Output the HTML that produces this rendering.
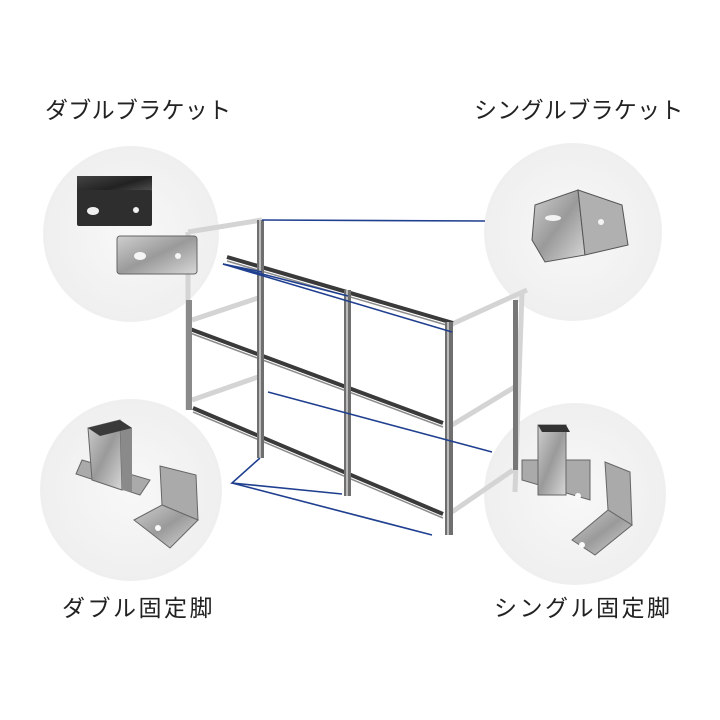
<!DOCTYPE html>
<html><head><meta charset="utf-8"><style>
body{margin:0;background:#fff;}
svg{display:block}
text{font-family:"Liberation Sans","Noto Sans CJK JP",sans-serif;font-size:23px;fill:#222;letter-spacing:0.3px}
text.b{letter-spacing:2.5px}
</style></head><body>
<svg width="720" height="720" viewBox="0 0 720 720" xmlns="http://www.w3.org/2000/svg">
<defs>
<radialGradient id="cg" cx="50%" cy="50%" r="50%">
<stop offset="0%" stop-color="#f8f8f8"/><stop offset="100%" stop-color="#efefef"/>
</radialGradient>
<linearGradient id="met" x1="0" y1="0" x2="1" y2="1">
<stop offset="0" stop-color="#cfcfcf"/><stop offset=".5" stop-color="#9a9a9a"/><stop offset="1" stop-color="#d8d8d8"/>
</linearGradient>
<linearGradient id="dark" x1="0" y1="0" x2="1" y2="1">
<stop offset="0" stop-color="#444"/><stop offset=".5" stop-color="#222"/><stop offset="1" stop-color="#666"/>
</linearGradient>
</defs>
<text x="45" y="118">ダブルブラケット</text>
<text x="474" y="118">シングルブラケット</text>
<text class="b" x="62" y="616">ダブル固定脚</text>
<text class="b" x="494" y="616">シングル固定脚</text>

<circle cx="131" cy="234" r="88" fill="url(#cg)"/>
<circle cx="573" cy="232" r="89" fill="url(#cg)"/>
<circle cx="131" cy="490" r="91" fill="url(#cg)"/>
<circle cx="575" cy="494" r="91" fill="url(#cg)"/>

<g stroke="#d4d4d4" stroke-width="5" fill="none">
<line x1="188" y1="232" x2="262" y2="220"/>
<line x1="188" y1="232" x2="188" y2="410"/>
<line x1="192" y1="320" x2="258" y2="298"/>
<line x1="192" y1="400" x2="258" y2="377"/>
<line x1="450" y1="325" x2="527" y2="290"/>
<line x1="522" y1="292" x2="515" y2="492"/>
<line x1="452" y1="425" x2="518" y2="385"/>
<line x1="452" y1="512" x2="513" y2="470"/>
</g>
<g stroke="#3a3a3a" stroke-width="4" fill="none">
<line x1="227" y1="257" x2="453" y2="323"/>
<line x1="190" y1="329" x2="443" y2="423"/>
<line x1="193" y1="408" x2="443" y2="514"/>
</g>
<g stroke="#8c8c8c" stroke-width="1.5" fill="none">
<line x1="227" y1="261" x2="453" y2="327"/>
<line x1="190" y1="333" x2="443" y2="427"/>
<line x1="193" y1="412" x2="443" y2="518"/>
</g>
<g>
<rect x="186" y="300" width="6" height="110" fill="#8a8a8a"/>
<rect x="257" y="220" width="7" height="238" fill="#6f6f6f"/>
<rect x="259" y="220" width="2" height="238" fill="#bbb"/>
<rect x="344" y="290" width="7" height="206" fill="#6f6f6f"/>
<rect x="346" y="290" width="2" height="206" fill="#bbb"/>
<rect x="445" y="322" width="8" height="213" fill="#6f6f6f"/>
<rect x="447" y="322" width="2" height="213" fill="#bbb"/>
<rect x="513" y="300" width="5" height="170" fill="#777"/>
</g>

<g stroke="#1f3f8f" stroke-width="1.6" fill="none">
<line x1="262" y1="220" x2="485" y2="221"/>
<line x1="223" y1="264" x2="452" y2="332"/>
<line x1="223" y1="264" x2="348" y2="296"/>
<line x1="223" y1="264" x2="262" y2="272"/>
<line x1="268" y1="392" x2="492" y2="452"/>
<polyline points="260,458 232,483 342,494"/>
<line x1="232" y1="483" x2="432" y2="535"/>
</g>

<rect x="77" y="176" width="75" height="22" fill="url(#dark)"/>
<rect x="77" y="190" width="75" height="36" rx="2" fill="#2e2e2e"/>
<ellipse cx="93" cy="211" rx="6" ry="4" fill="#f0f0f0"/>
<circle cx="136" cy="210" r="3" fill="#f0f0f0"/>
<rect x="117" y="236" width="80" height="38" rx="3" fill="url(#met)" stroke="#666"/>
<ellipse cx="140" cy="256" rx="6" ry="4" fill="#f5f5f5"/>
<circle cx="178" cy="256" r="3" fill="#f5f5f5"/>

<polygon points="535,205 578,190 585,255 545,262 532,240" fill="url(#met)" stroke="#555"/>
<polygon points="578,190 622,205 628,245 585,255" fill="#b0b0b0" stroke="#555"/>
<ellipse cx="553" cy="218" rx="8" ry="3" fill="#f3f3f3"/>
<circle cx="601" cy="222" r="3" fill="#f3f3f3"/>

<polygon points="82,460 150,480 140,495 76,474" fill="#aaa" stroke="#666"/>
<polygon points="88,428 120,420 122,490 92,480" fill="url(#met)" stroke="#666"/>
<polygon points="120,420 132,428 132,492 122,490" fill="#8a8a8a"/>
<polygon points="88,428 120,420 132,428 100,436" fill="#3a3a3a"/>
<polygon points="160,466 196,475 198,520 162,505" fill="#aaa" stroke="#666"/>
<polygon points="134,520 162,505 198,520 170,548" fill="url(#met)" stroke="#666"/>
<circle cx="158" cy="528" r="3" fill="#fafafa"/>

<polygon points="522,460 590,460 590,500 522,480" fill="#aaa" stroke="#666"/>
<rect x="538" y="425" width="28" height="70" fill="url(#met)" stroke="#666"/>
<polygon points="538,425 566,425 570,432 542,432" fill="#333"/>
<polygon points="605,462 630,472 632,525 608,510" fill="#aaa" stroke="#666"/>
<polygon points="572,540 608,510 632,525 595,555" fill="url(#met)" stroke="#666"/>
<circle cx="582" cy="545" r="3" fill="#fafafa"/>
<circle cx="578" cy="496" r="3" fill="#fafafa"/>
</svg>
</body></html>
